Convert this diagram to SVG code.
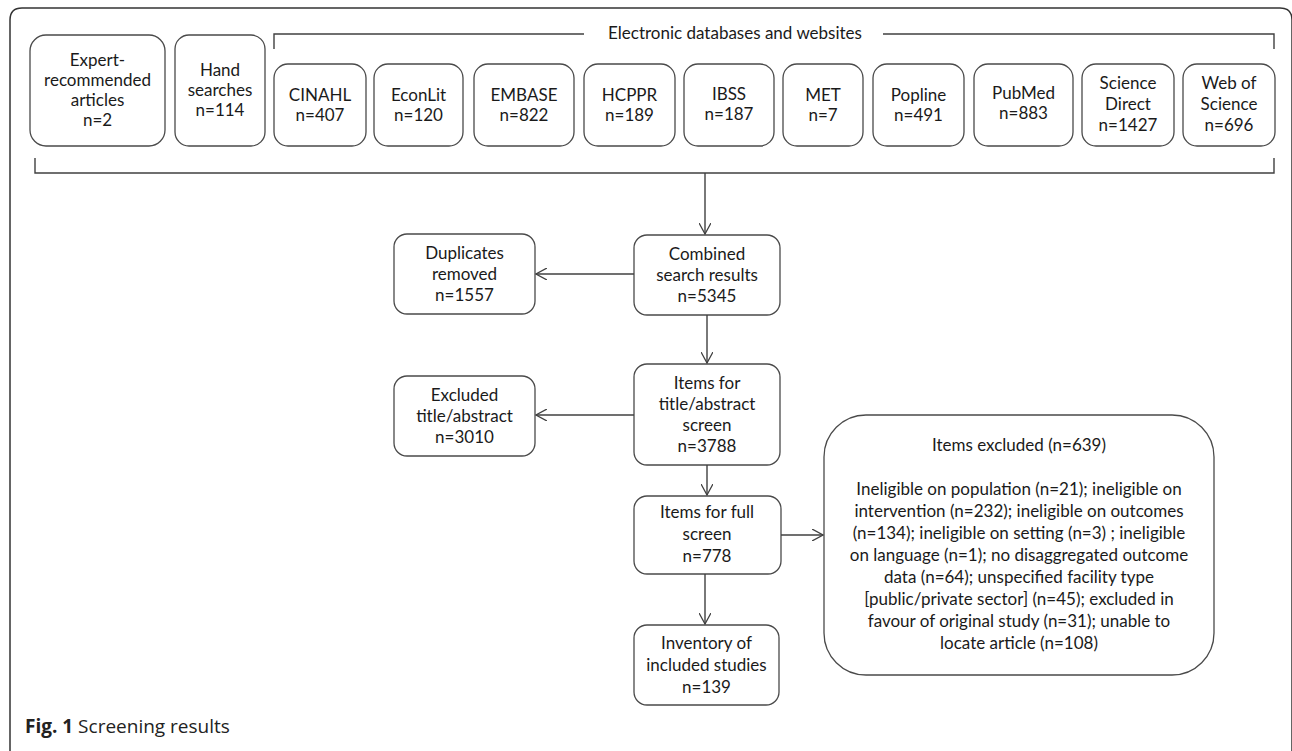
<svg xmlns="http://www.w3.org/2000/svg" width="1292" height="751" viewBox="0 0 1292 751">
<defs>
<style>
.box{fill:#fff;stroke:#4a4a4a;stroke-width:1.3}
.t{font-family:Lato,"Open Sans","Liberation Sans",sans-serif;font-size:17px;fill:#1a1a1a;text-anchor:middle}
.ln{fill:none;stroke:#404040;stroke-width:1.4}
.cap{font-family:"Open Sans","Noto Sans","Liberation Sans",sans-serif;font-size:19px;fill:#222}
</style>
<marker id="ah" viewBox="0 0 12 12" refX="11" refY="6" markerWidth="12" markerHeight="12" markerUnits="userSpaceOnUse" orient="auto">
<path d="M0,0 L11,6 L0,12" fill="none" stroke="#404040" stroke-width="1.3"/>
</marker>
</defs>
<rect width="1292" height="751" fill="#fff"/>
<path d="M10,760 L10,20 Q10,8 22,8 L1280,8 Q1292,8 1292,20 L1292,760" fill="none" stroke="#333" stroke-width="1.5"/>

<g id="brackets">
<path class="ln" d="M274,49 L274,34 L584,34"/>
<path class="ln" d="M883,34 L1274,34 L1274,49"/>
<text class="t" x="735" y="39">Electronic databases and websites</text>
<path class="ln" d="M35,158 L35,173 L1274,173 L1274,158"/>
</g>

<g id="n-expert"><rect class="box" x="30" y="35" width="135" height="111" rx="16"/>
<text class="t" x="97.5" y="66">Expert-</text><text class="t" x="97.5" y="86">recommended</text><text class="t" x="97.5" y="106">articles</text><text class="t" x="97.5" y="126">n=2</text></g>
<g id="n-hand"><rect class="box" x="175" y="35" width="90" height="111" rx="14"/>
<text class="t" x="220" y="76">Hand</text><text class="t" x="220" y="96">searches</text><text class="t" x="220" y="116">n=114</text></g>

<g id="n-cinahl"><rect class="box" x="274" y="64" width="92" height="82" rx="14"/>
<text class="t" x="320" y="101">CINAHL</text><text class="t" x="320" y="121">n=407</text></g>
<g id="n-econlit"><rect class="box" x="374" y="64" width="89" height="82" rx="14"/>
<text class="t" x="418.5" y="101">EconLit</text><text class="t" x="418.5" y="121">n=120</text></g>
<g id="n-embase"><rect class="box" x="474" y="64" width="100" height="82" rx="14"/>
<text class="t" x="524" y="101">EMBASE</text><text class="t" x="524" y="121">n=822</text></g>
<g id="n-hcppr"><rect class="box" x="584" y="64" width="91" height="82" rx="14"/>
<text class="t" x="629.5" y="101">HCPPR</text><text class="t" x="629.5" y="121">n=189</text></g>
<g id="n-ibss"><rect class="box" x="684" y="64" width="90" height="82" rx="14"/>
<text class="t" x="729" y="100">IBSS</text><text class="t" x="729" y="120">n=187</text></g>
<g id="n-met"><rect class="box" x="783" y="64" width="80" height="82" rx="14"/>
<text class="t" x="823" y="101">MET</text><text class="t" x="823" y="121">n=7</text></g>
<g id="n-popline"><rect class="box" x="873" y="64" width="91" height="82" rx="14"/>
<text class="t" x="918.5" y="101">Popline</text><text class="t" x="918.5" y="121">n=491</text></g>
<g id="n-pubmed"><rect class="box" x="974" y="64" width="99" height="82" rx="14"/>
<text class="t" x="1023.5" y="99">PubMed</text><text class="t" x="1023.5" y="119">n=883</text></g>
<g id="n-sciencedirect"><rect class="box" x="1082" y="64" width="92" height="82" rx="14"/>
<text class="t" x="1128" y="89">Science</text><text class="t" x="1128" y="110">Direct</text><text class="t" x="1128" y="131">n=1427</text></g>
<g id="n-wos"><rect class="box" x="1183" y="64" width="92" height="82" rx="14"/>
<text class="t" x="1229" y="89">Web of</text><text class="t" x="1229" y="110">Science</text><text class="t" x="1229" y="131">n=696</text></g>

<g id="n-combined"><rect class="box" x="634" y="235" width="146" height="80" rx="13"/>
<text class="t" x="707" y="260">Combined</text><text class="t" x="707" y="281">search results</text><text class="t" x="707" y="302">n=5345</text></g>
<g id="n-duplicates"><rect class="box" x="394" y="234" width="141" height="80" rx="13"/>
<text class="t" x="464.5" y="259">Duplicates</text><text class="t" x="464.5" y="280">removed</text><text class="t" x="464.5" y="301">n=1557</text></g>
<g id="n-titleabs"><rect class="box" x="634" y="364" width="146" height="101" rx="13"/>
<text class="t" x="707" y="389">Items for</text><text class="t" x="707" y="410">title/abstract</text><text class="t" x="707" y="431">screen</text><text class="t" x="707" y="452">n=3788</text></g>
<g id="n-excluded"><rect class="box" x="394" y="376" width="141" height="80" rx="13"/>
<text class="t" x="464.5" y="401">Excluded</text><text class="t" x="464.5" y="422">title/abstract</text><text class="t" x="464.5" y="443">n=3010</text></g>
<g id="n-fullscreen"><rect class="box" x="634" y="496" width="147" height="78" rx="13"/>
<text class="t" x="707" y="518">Items for full</text><text class="t" x="707" y="540">screen</text><text class="t" x="707" y="562">n=778</text></g>
<g id="n-inventory"><rect class="box" x="634" y="625" width="145" height="80" rx="13"/>
<text class="t" x="706.5" y="649">Inventory of</text><text class="t" x="706.5" y="671">included studies</text><text class="t" x="706.5" y="693">n=139</text></g>
<g id="n-itemsexcl"><rect class="box" x="824" y="415" width="390" height="260" rx="42"/>
<text class="t" x="1019" y="451">Items excluded (n=639)</text>
<text class="t" x="1019" y="495">Ineligible on population (n=21); ineligible on</text>
<text class="t" x="1019" y="517">intervention (n=232); ineligible on outcomes</text>
<text class="t" x="1019" y="539">(n=134); ineligible on setting (n=3) ; ineligible</text>
<text class="t" x="1019" y="561">on language (n=1); no disaggregated outcome</text>
<text class="t" x="1019" y="583">data (n=64); unspecified facility type</text>
<text class="t" x="1019" y="605">[public/private sector] (n=45); excluded in</text>
<text class="t" x="1019" y="627">favour of original study (n=31); unable to</text>
<text class="t" x="1019" y="649">locate article (n=108)</text></g>

<g id="connectors">
<path class="ln" d="M705,173 L705,234" marker-end="url(#ah)"/>
<path class="ln" d="M634,274 L536,274" marker-end="url(#ah)"/>
<path class="ln" d="M707,315 L707,363" marker-end="url(#ah)"/>
<path class="ln" d="M634,415 L536,415" marker-end="url(#ah)"/>
<path class="ln" d="M707,465 L707,495" marker-end="url(#ah)"/>
<path class="ln" d="M781,535 L823,535" marker-end="url(#ah)"/>
<path class="ln" d="M705,574 L705,624" marker-end="url(#ah)"/>
</g>

<text class="cap" x="25" y="733"><tspan font-weight="bold">Fig. 1</tspan> Screening results</text>
</svg>
